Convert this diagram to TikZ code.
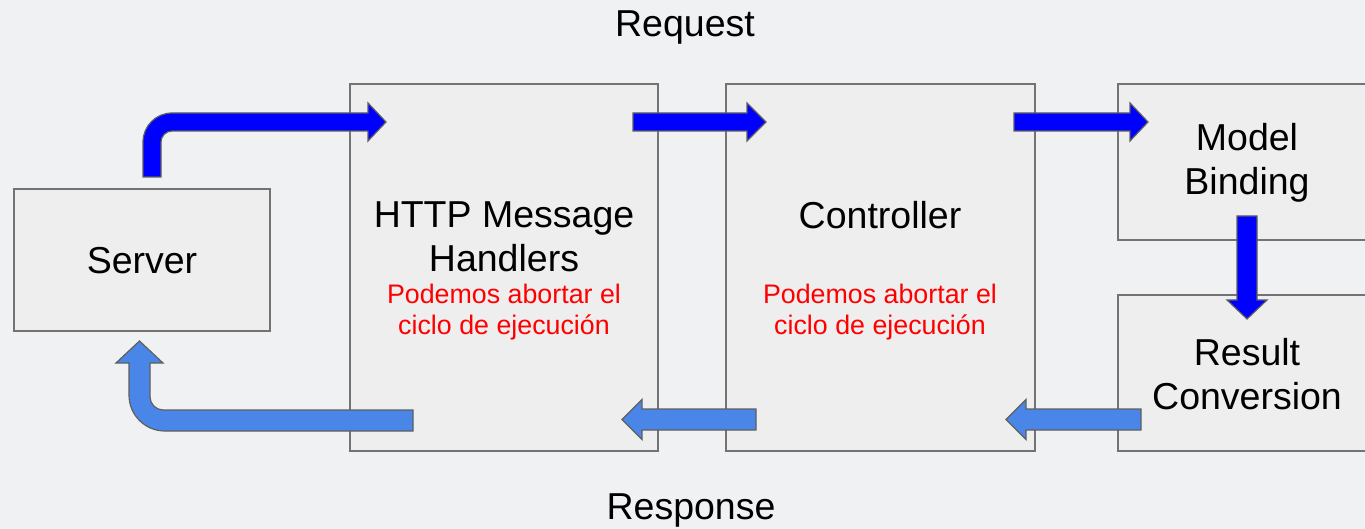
\documentclass[tikz,border=0pt]{standalone}
\usepackage{fontspec}
\setmainfont{Liberation Sans}
\definecolor{bgc}{HTML}{EFF1F3}
\definecolor{boxfill}{HTML}{EEEEEE}
\definecolor{boxline}{HTML}{737373}
\definecolor{reqblue}{HTML}{0000FF}
\definecolor{resblue}{HTML}{4A86E8}
\definecolor{arrline}{HTML}{5F5F5F}
\tikzset{
  stage/.style={draw=boxline, fill=boxfill, line width=1.5pt, inner sep=0pt, rectangle},
  bigtext/.style={font=\fontsize{37.5}{44}\selectfont, text=black, align=center, inner sep=0pt},
  redtext/.style={font=\fontsize{26.8}{31}\selectfont, text=red, align=center, inner sep=0pt},
  reqarrow/.style={fill=reqblue, draw=arrline, line width=1.2pt, line join=miter},
  resarrow/.style={fill=resblue, draw=arrline, line width=1.2pt, line join=miter}
}
\begin{document}
\begin{tikzpicture}[x=1pt,y=-1pt]
\fill[bgc] (0,0) rectangle (1365,529);
\useasboundingbox (0,0) rectangle (1365,529);

% boxes
\node[stage, minimum width=256pt, minimum height=142pt] (server) at (142,260) {};
\node[stage, minimum width=308pt, minimum height=367pt] (http) at (504,267.5) {};
\node[stage, minimum width=309pt, minimum height=367pt] (ctrl) at (880.5,267.5) {};
\node[stage, minimum width=252pt, minimum height=156pt] (model) at (1244,162) {};
\node[stage, minimum width=252pt, minimum height=156pt] (result) at (1244,373) {};

% texts
\node[bigtext] (treq) at (685,27) {Request};
\node[bigtext] (tres) at (691,510) {Response};
\node[bigtext] (tserver) at (142,261) {Server};
\node[bigtext] (thttp) at (504,237) {HTTP Message\\Handlers};
\node[redtext] (rhttp) at (504,312.5) {Podemos abortar el\\ciclo de ejecución};
\node[bigtext] (tctrl) at (880,215) {Controller};
\node[redtext] (rctrl) at (880,312.5) {Podemos abortar el\\ciclo de ejecución};
\node[bigtext] (tmodel) at (1247,163) {Model\\Binding};
\node[bigtext] (tresult) at (1247,374) {Result\\Conversion};

% request arrows
\draw[reqarrow] (143,177) -- (143,142) .. controls (143,126) and (156,113) .. (172,113)
  -- (368,113) -- (368,103) -- (386,122) -- (368,141) -- (368,131) -- (172,131)
  .. controls (166,131) and (161,136) .. (161,142) -- (161,177) -- cycle;
\draw[reqarrow] (633,113) -- (747,113) -- (747,103) -- (766,122) -- (747,141) -- (747,131) -- (633,131) -- cycle;
\draw[reqarrow] (1014,113) -- (1130,113) -- (1130,103) -- (1148,122) -- (1130,141) -- (1130,131) -- (1014,131) -- cycle;
\draw[reqarrow] (1237,216) -- (1257,216) -- (1257,300) -- (1267,300) -- (1247,319) -- (1227,300) -- (1237,300) -- cycle;

% response arrows
\draw[resarrow] (1141,409) -- (1026,409) -- (1026,399.5) -- (1006,419.5) -- (1026,439.5) -- (1026,430) -- (1141,430) -- cycle;
\draw[resarrow] (756,409) -- (642,409) -- (642,399.5) -- (622,419.5) -- (642,439.5) -- (642,430) -- (756,430) -- cycle;
\draw[resarrow] (413,431) -- (165,431) .. controls (145,431) and (129,415) .. (129,395)
  -- (129,363) -- (116,363) -- (139.5,341) -- (163,363) -- (150,363) -- (150,397)
  .. controls (150,404) and (156,410) .. (163,410) -- (413,410) -- cycle;
\end{tikzpicture}
\end{document}
